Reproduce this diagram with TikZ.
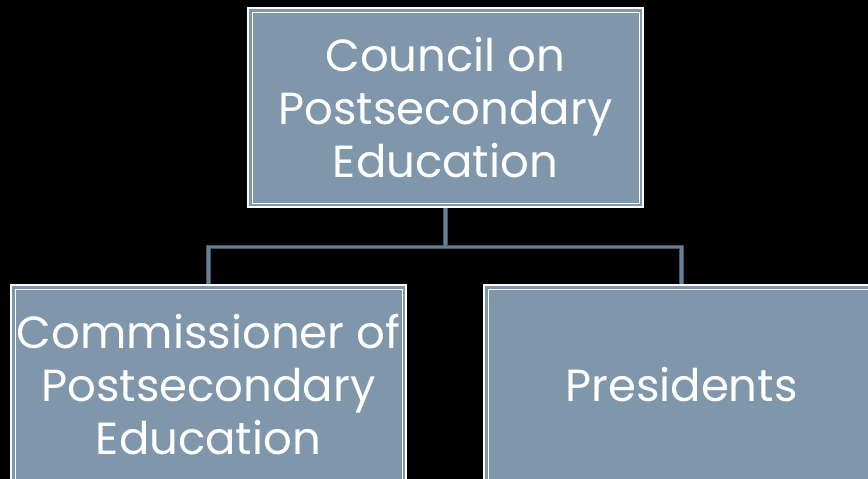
\documentclass[tikz,border=0pt]{standalone}
\usepackage{fontspec}
\setmainfont{Poppins}
\usepackage{tikz}
\usetikzlibrary{positioning}
\definecolor{boxfill}{HTML}{7F96AB}
\definecolor{linedark}{HTML}{44556A}
\definecolor{linelight}{HTML}{687E93}
\tikzset{
   orgbox/.style={
     draw=white, line width=2pt, fill=boxfill,
     minimum width=395pt, minimum height=199pt, inner sep=0pt,
     text=white, align=center,
     font=\fontsize{45}{53}\selectfont,
     path picture={
       \draw[white, line width=0.8pt]
         ([shift={(4pt,-4pt)}]path picture bounding box.north west) rectangle
         ([shift={(-4pt,4pt)}]path picture bounding box.south east);
     }
   },
   orgline/.style={draw=linedark, line width=1.2pt, double=linelight, double distance=2.5pt}
}
\begin{document}
\begin{tikzpicture}[x=1pt,y=-1pt]
   \fill[black] (0,0) rectangle (868,479);
   \useasboundingbox (0,0) rectangle (868,479);
   \clip (0,0) rectangle (868,479);
   \node[orgbox](council) at (445.5,107.5) {Council on\\Postsecondary\\Education};
   \node[orgbox](commissioner) at (208.5,384.5) {Commissioner of\\Postsecondary\\Education};
   \node[orgbox](presidents) at (681.5,384.5) {Presidents};
   \coordinate (split) at (445.5,247);
   % tree connectors
   \draw[orgline] (council.south) -- (split) -| (commissioner.north);
   \draw[orgline] (split) -| (presidents.north);
\end{tikzpicture}
\end{document}
